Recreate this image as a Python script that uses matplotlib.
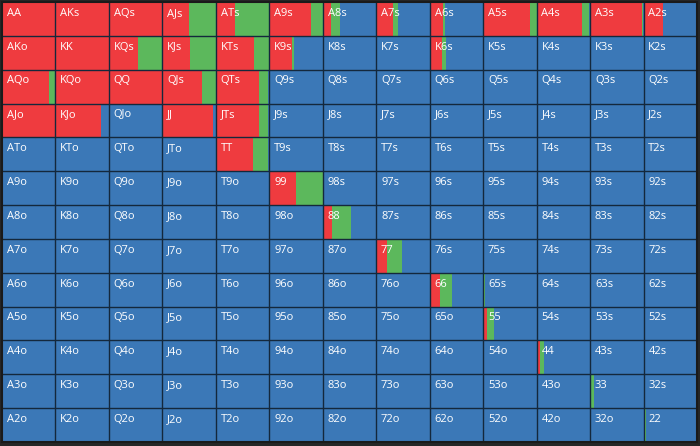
import matplotlib
matplotlib.use("Agg")
import matplotlib.pyplot as plt

# Rangliste und Anteile (Raise / Call, Rest = Fold) pro Zelle
ranks = ["A", "K", "Q", "J", "T", "9", "8", "7", "6", "5", "4", "3", "2"]

raise_frac = [
    [1.00, 1.00, 1.00, 0.50, 0.36, 0.78, 0.15, 0.32, 0.25, 0.87, 0.84, 0.97, 0.37],
    [1.00, 1.00, 0.54, 0.52, 0.71, 0.43, 0.00, 0.00, 0.23, 0.00, 0.00, 0.00, 0.00],
    [0.88, 1.00, 1.00, 0.75, 0.81, 0.00, 0.00, 0.00, 0.00, 0.00, 0.00, 0.00, 0.00],
    [1.00, 0.85, 0.00, 0.94, 0.81, 0.00, 0.00, 0.00, 0.00, 0.00, 0.00, 0.00, 0.00],
    [0.00, 0.00, 0.00, 0.00, 0.70, 0.00, 0.00, 0.00, 0.00, 0.00, 0.00, 0.00, 0.00],
    [0.00, 0.00, 0.00, 0.00, 0.00, 0.50, 0.00, 0.00, 0.00, 0.00, 0.00, 0.00, 0.00],
    [0.00, 0.00, 0.00, 0.00, 0.00, 0.00, 0.17, 0.00, 0.00, 0.00, 0.00, 0.00, 0.00],
    [0.00, 0.00, 0.00, 0.00, 0.00, 0.00, 0.00, 0.20, 0.00, 0.00, 0.00, 0.00, 0.00],
    [0.00, 0.00, 0.00, 0.00, 0.00, 0.00, 0.00, 0.00, 0.20, 0.01, 0.00, 0.00, 0.00],
    [0.00, 0.00, 0.00, 0.00, 0.00, 0.00, 0.00, 0.00, 0.00, 0.07, 0.00, 0.00, 0.00],
    [0.00, 0.00, 0.00, 0.00, 0.00, 0.00, 0.00, 0.00, 0.00, 0.00, 0.06, 0.00, 0.00],
    [0.00, 0.00, 0.00, 0.00, 0.00, 0.00, 0.00, 0.00, 0.00, 0.00, 0.00, 0.01, 0.00],
    [0.00, 0.00, 0.00, 0.00, 0.00, 0.00, 0.00, 0.00, 0.00, 0.00, 0.00, 0.00, 0.00],
]

call_frac = [
    [0.00, 0.00, 0.00, 0.50, 0.64, 0.22, 0.17, 0.09, 0.04, 0.13, 0.14, 0.02, 0.00],
    [0.00, 0.00, 0.46, 0.48, 0.29, 0.04, 0.00, 0.00, 0.07, 0.00, 0.00, 0.00, 0.00],
    [0.12, 0.00, 0.00, 0.25, 0.17, 0.00, 0.00, 0.00, 0.00, 0.00, 0.00, 0.00, 0.00],
    [0.00, 0.00, 0.00, 0.00, 0.17, 0.00, 0.00, 0.00, 0.00, 0.00, 0.00, 0.00, 0.00],
    [0.00, 0.00, 0.00, 0.00, 0.28, 0.00, 0.00, 0.00, 0.00, 0.00, 0.00, 0.00, 0.00],
    [0.00, 0.00, 0.00, 0.00, 0.00, 0.50, 0.00, 0.00, 0.00, 0.00, 0.00, 0.00, 0.00],
    [0.00, 0.00, 0.00, 0.00, 0.00, 0.00, 0.36, 0.00, 0.00, 0.00, 0.00, 0.00, 0.00],
    [0.00, 0.00, 0.00, 0.00, 0.00, 0.00, 0.00, 0.28, 0.00, 0.00, 0.00, 0.00, 0.00],
    [0.00, 0.00, 0.00, 0.00, 0.00, 0.00, 0.00, 0.00, 0.21, 0.02, 0.00, 0.00, 0.00],
    [0.00, 0.00, 0.00, 0.00, 0.00, 0.00, 0.00, 0.00, 0.00, 0.13, 0.02, 0.00, 0.00],
    [0.00, 0.00, 0.00, 0.00, 0.00, 0.00, 0.00, 0.00, 0.00, 0.00, 0.08, 0.00, 0.00],
    [0.00, 0.00, 0.00, 0.00, 0.00, 0.00, 0.00, 0.00, 0.00, 0.00, 0.00, 0.06, 0.00],
    [0.00, 0.00, 0.00, 0.00, 0.00, 0.00, 0.00, 0.00, 0.00, 0.00, 0.00, 0.00, 0.05],
]

RED = "#ef3b3f"
GREEN = "#5cb85c"
BLUE = "#3b78b7"
LINE = "#14283c"
BG = "#262626"

n = len(ranks)

fig = plt.figure(figsize=(7.0, 4.46), dpi=100, facecolor=BG)
ax = fig.add_axes([2 / 700, 4 / 446, 695 / 700, 440 / 446])
ax.set_facecolor(BLUE)

for i in range(n):
    r = raise_frac[i]
    c = call_frac[i]
    cols = list(range(n))
    ax.barh([i + 0.5] * n, [1.0] * n, left=cols, height=1.0, color=BLUE, linewidth=0)
    ax.barh([i + 0.5] * n, r, left=cols, height=1.0, color=RED, linewidth=0)
    ax.barh([i + 0.5] * n, c, left=[cols[k] + r[k] for k in range(n)], height=1.0,
            color=GREEN, linewidth=0)

    for j in range(n):
        if i == j:
            label = ranks[i] + ranks[j]
        elif j > i:
            label = ranks[i] + ranks[j] + "s"
        else:
            label = ranks[j] + ranks[i] + "o"
        ax.text(j + 0.09, i + 0.17, label, color="white", fontsize=8,
                family=["Open Sans", "DejaVu Sans"], va="top", ha="left")

# Gitterlinien
ax.hlines(range(1, n), 0, n, color=LINE, linewidth=1.0)
ax.vlines(range(1, n), 0, n, color=LINE, linewidth=1.0)

ax.set_xlim(0, n)
ax.set_ylim(n, 0)
ax.set_xticks([])
ax.set_yticks([])
for s in ax.spines.values():
    s.set_color("#1a1a1a")
    s.set_linewidth(1.5)

fig.savefig("out.png", dpi=100, facecolor=BG)
